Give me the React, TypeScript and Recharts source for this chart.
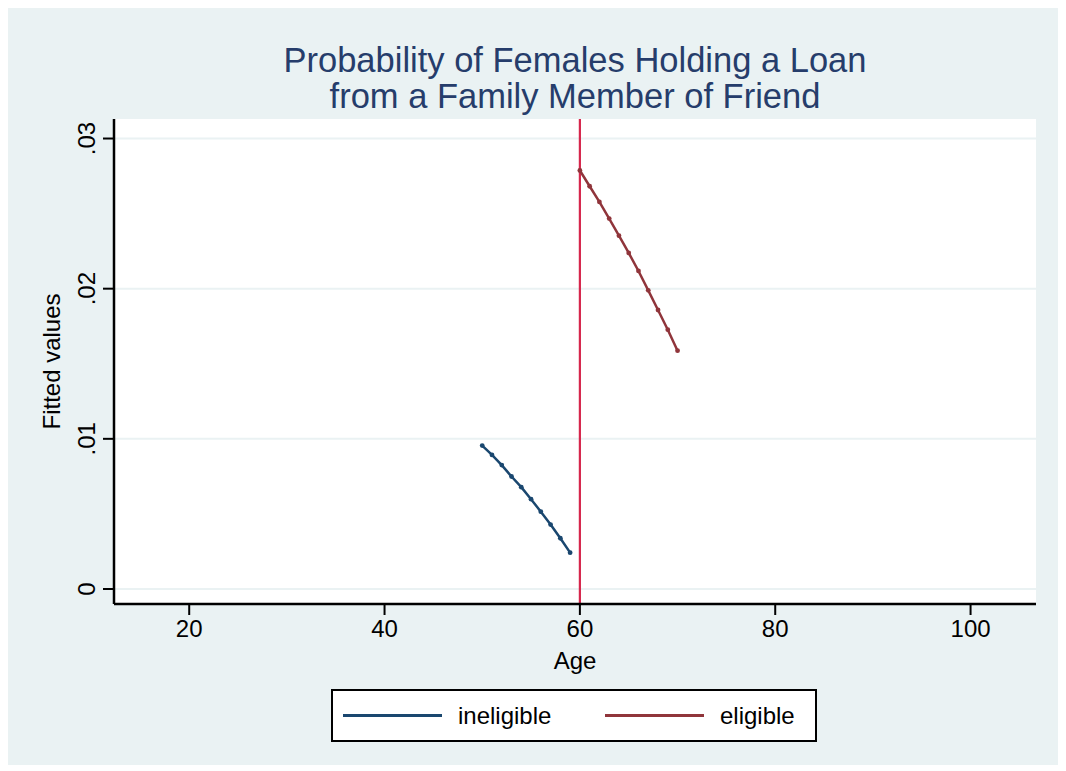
import React from 'react';
import { LineChart, Line, XAxis, YAxis, CartesianGrid, ReferenceLine } from 'recharts';

// values
const ineligibleAges = [50, 51, 52, 53, 54, 55, 56, 57, 58, 59];
const ineligibleValues = [0.00955, 0.00893, 0.00825, 0.00749, 0.00678, 0.00598, 0.00515, 0.00429, 0.00338, 0.00242];

const eligibleAges = [60, 61, 62, 63, 64, 65, 66, 67, 68, 69, 70];
const eligibleValues = [0.02787, 0.02682, 0.02578, 0.02467, 0.02353, 0.02238, 0.02118, 0.01989, 0.01858, 0.01727, 0.01587];

const xTicks = [20, 40, 60, 80, 100];
const yTicks = [0, 0.01, 0.02, 0.03];
const cutoffAge = 60;

const titleLines = ['Probability of Females Holding a Loan', 'from a Family Member of Friend'];

const FONT = '"Liberation Sans", Arial, Helvetica, sans-serif';
const BG = '#eaf2f3';
const NAVY = '#1a476f';
const MAROON = '#90353b';
const FS = 24;

const ineligibleData = ineligibleAges.map((age, i) => ({ age, fitted: ineligibleValues[i] }));
const eligibleData = eligibleAges.map((age, i) => ({ age, fitted: eligibleValues[i] }));

const fmtY = (v: number) => (v === 0 ? '0' : v.toFixed(2).replace(/^0/, ''));

// rotated y tick labels, like Stata
const YTick = ({ x, y, payload }: any) => (
  <text
    x={x - 6}
    y={y}
    transform={`rotate(-90 ${x - 6} ${y})`}
    textAnchor="middle"
    fontSize={FS}
    fontFamily={FONT}
    fill="#000"
  >
    {fmtY(payload.value)}
  </text>
);

const YLabel = ({ viewBox }: any) => {
  const cy = viewBox.y + viewBox.height / 2;
  const cx = 52;
  return (
    <text
      x={cx}
      y={cy}
      transform={`rotate(-90 ${cx} ${cy})`}
      textAnchor="middle"
      fontSize={FS}
      fontFamily={FONT}
      fill="#000"
    >
      Fitted values
    </text>
  );
};

const XLabel = ({ viewBox }: any) => (
  <text
    x={viewBox.x + viewBox.width / 2}
    y={viewBox.y + 65}
    textAnchor="middle"
    fontSize={FS}
    fontFamily={FONT}
    fill="#000"
  >
    Age
  </text>
);

const Dot = ({ cx, cy, stroke }: any) =>
  cx == null ? null : <circle cx={cx} cy={cy} r={2.4} fill={stroke} stroke="none" />;

export default function App() {
  return (
    <div style={{ position: 'relative', width: 1050, height: 757, background: BG, fontFamily: FONT }}>
      {titleLines.map((t, i) => (
        <div
          key={t}
          style={{
            position: 'absolute',
            left: 0,
            width: 1134,
            top: 34 + i * 36,
            textAlign: 'center',
            fontSize: 34.5,
            lineHeight: '36px',
            color: '#263d6b',
          }}
        >
          {t}
        </div>
      ))}

      <LineChart
        width={1050}
        height={757}
        margin={{ top: 111, right: 22, bottom: 101, left: 0 }}
        style={{ position: 'absolute', left: 0, top: 0 }}
      >
        <CartesianGrid vertical={false} fill="#fff" stroke={BG} strokeWidth={2} horizontalValues={yTicks} />
        <XAxis
          type="number"
          dataKey="age"
          domain={[12.3, 106.7]}
          ticks={xTicks}
          allowDataOverflow
          height={60}
          tickSize={11}
          tickMargin={5}
          axisLine={{ stroke: '#000', strokeWidth: 2.5 }}
          tickLine={{ stroke: '#000', strokeWidth: 2 }}
          tick={{ fontSize: FS, fontFamily: FONT, fill: '#000' }}
          label={<XLabel />}
        />
        <YAxis
          type="number"
          domain={[-0.001, 0.0313]}
          ticks={yTicks}
          allowDataOverflow
          width={106}
          tickSize={11}
          axisLine={{ stroke: '#000', strokeWidth: 2.5 }}
          tickLine={{ stroke: '#000', strokeWidth: 2 }}
          tick={<YTick />}
          label={<YLabel />}
        />
        <ReferenceLine x={cutoffAge} stroke="#d6264c" strokeWidth={2.2} />
        <Line
          data={ineligibleData}
          dataKey="fitted"
          type="linear"
          stroke={NAVY}
          strokeWidth={2.5}
          dot={<Dot />}
          activeDot={false}
          isAnimationActive={false}
        />
        <Line
          data={eligibleData}
          dataKey="fitted"
          type="linear"
          stroke={MAROON}
          strokeWidth={2.5}
          dot={<Dot />}
          activeDot={false}
          isAnimationActive={false}
        />
      </LineChart>

      <div
        style={{
          position: 'absolute',
          left: 323,
          top: 681,
          width: 482,
          height: 49,
          background: '#fff',
          border: '2px solid #000',
          display: 'flex',
          alignItems: 'center',
          fontSize: FS,
          color: '#000',
        }}
      >
        <span style={{ marginLeft: 10, width: 99, height: 3, background: NAVY, display: 'inline-block' }} />
        <span style={{ marginLeft: 16, width: 147 }}>ineligible</span>
        <span style={{ width: 99, height: 3, background: MAROON, display: 'inline-block' }} />
        <span style={{ marginLeft: 16 }}>eligible</span>
      </div>
    </div>
  );
}
